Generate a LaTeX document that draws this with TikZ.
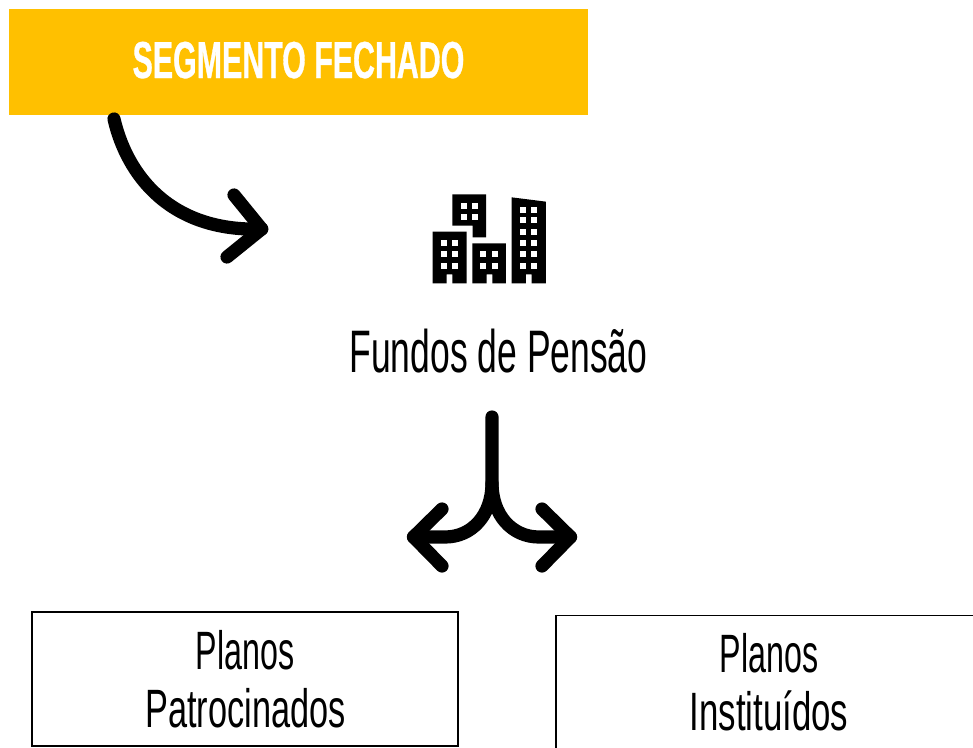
\documentclass[tikz,border=0pt]{standalone}
\usepackage{fontspec}
\usepackage{graphicx}
\setmainfont{Liberation Sans}
\newfontfamily\condfont[FakeStretch=0.62]{Liberation Sans}
\newfontfamily\condbold[FakeStretch=0.584,FakeBold=0.6]{Liberation Sans Bold}
\tikzset{
  big/.style={line width=13.2pt,line cap=round,line join=round,black},
  planbox/.style={draw=black,line width=1.6pt,fill=white,outer sep=0pt},
  label/.style={anchor=base,inner sep=0pt,black},
  win/.style={fill=white,draw=none},
  bldg/.style={fill=black,draw=none}
}
\begin{document}
\begin{tikzpicture}[x=1pt,y=-1pt]
\useasboundingbox (0,0) rectangle (973,747);
\fill[white] (0,0) rectangle (973,747);
\definecolor{banner}{HTML}{FFC000}
% banner
\node[fill=banner,draw=none,minimum width=579pt,minimum height=106pt,inner sep=0pt,outer sep=0pt,anchor=north west] (banner) at (9,9) {};
\node[label,text=white] (bannertext) at (298.5,78) {\fontsize{52}{52}\selectfont\condbold SEGMENTO FECHADO};
% arrow 1
\coordinate (a1s) at (114,119);
\coordinate (a1t) at (261.7,229);
\coordinate (a1u) at (234,195);
\coordinate (a1d) at (227,257);
\draw[big] (a1s) .. controls (127,175) and (170,232) .. (a1t);
\draw[big] (a1u) -- (a1t) -- (a1d);
% buildings
\begin{scope}[shift={(420,180)},x=0.3333pt,y=-0.3333pt]
\fill[bldg] (97,43) -- (198,43) -- (198,172) -- (158,172) -- (158,137) -- (97,137) -- cycle;
\fill[bldg] (38,155) -- (140,155) -- (140,310) -- (97,310) -- (97,283) -- (80,283) -- (80,310) -- (38,310) -- cycle;
\fill[bldg] (157,190) -- (258,190) -- (258,310) -- (217,310) -- (217,283) -- (200,283) -- (200,310) -- (157,310) -- cycle;
\fill[bldg] (275,52) -- (378,65) -- (378,310) -- (335,310) -- (335,283) -- (318,283) -- (318,310) -- (275,310) -- cycle;
\foreach \xx in {122,156} \foreach \yy in {69,103} \fill[win] (\xx,\yy) rectangle ++(18,18);
\foreach \xx in {62,96} \foreach \yy in {180,214,248} \fill[win] (\xx,\yy) rectangle ++(18,18);
\foreach \xx in {181,215} \foreach \yy in {214,248} \fill[win] (\xx,\yy) rectangle ++(18,18);
\foreach \xx in {300,334} \foreach \yy in {80,112,146,180,214,248} \fill[win] (\xx,\yy) rectangle ++(18,18);
\end{scope}
\node[label] (fundos) at (498.5,372) {\scalebox{0.954}[1]{\fontsize{60}{60}\selectfont\condfont Fundos de Pensão}};
% fork arrow
\coordinate (f0) at (492,417);
\coordinate (f1) at (492,483);
\coordinate (ft1) at (413.5,537);
\coordinate (ft2) at (570.5,537);
\coordinate (fl1) at (442,509);
\coordinate (fl2) at (442,566);
\coordinate (fr1) at (542,509);
\coordinate (fr2) at (542,566);
\draw[big] (f0) -- (f1) .. controls (492,515) and (472,537) .. (445,537) -- (ft1);
\draw[big] (f1) .. controls (492,515) and (512,537) .. (539,537) -- (ft2);
\draw[big] (fl1) -- (ft1) -- (fl2);
\draw[big] (fr1) -- (ft2) -- (fr2);
% boxes
\node[planbox,minimum width=426pt,minimum height=134pt,inner sep=0pt,anchor=north west] (pp) at (32,612) {};
\node[planbox,minimum width=440pt,minimum height=150pt,inner sep=0pt,anchor=north west] (pi) at (556,615.5) {};
\node[label] (pp1) at (245,669) {\scalebox{0.963}[1]{\fontsize{54}{54}\selectfont\condfont Planos}};
\node[label] (pp2) at (245.5,727) {\scalebox{1.025}[1]{\fontsize{54}{54}\selectfont\condfont Patrocinados}};
\node[label] (pi1) at (769,672.5) {\scalebox{0.963}[1]{\fontsize{54}{54}\selectfont\condfont Planos}};
\node[label] (pi2) at (769,730) {\scalebox{1.04}[1]{\fontsize{54}{54}\selectfont\condfont Instituídos}};
\end{tikzpicture}
\end{document}
